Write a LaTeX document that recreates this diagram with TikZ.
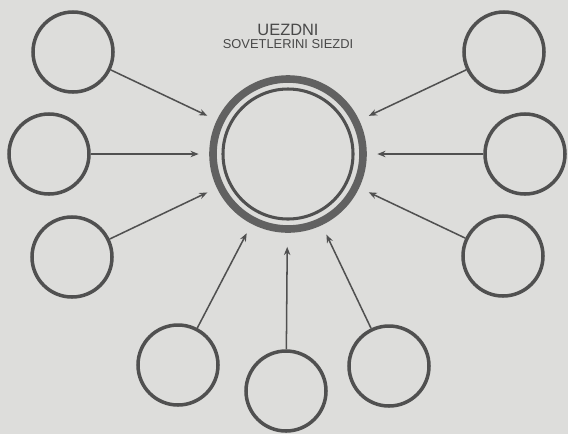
\documentclass[tikz,border=0pt]{standalone}
\usepackage{fontspec}
\setmainfont{Liberation Sans}
\usetikzlibrary{positioning,arrows.meta}
\definecolor{paper}{RGB}{221,221,219}
\definecolor{ink}{RGB}{80,80,80}

\begin{document}
\begin{tikzpicture}[
    x=0.03cm, y=-0.03cm,
    member/.style={circle,draw=ink,line width=3pt,inner sep=0pt,minimum size=2.4cm},
    hubouter/.style={circle,draw=ink!90,line width=6.5pt,inner sep=0pt,minimum size=4.5cm},
    hubinner/.style={circle,draw=ink,line width=2.6pt,inner sep=0pt,minimum size=3.9cm},
    label/.style={text=ink!90!black,inner sep=0pt},
    >={Stealth[length=7pt,width=5.5pt]}
]

\fill[paper] (0,0) rectangle (568,434);
\useasboundingbox (0,0) rectangle (568,434);

\node (title) [label,font=\fontsize{14}{16}\selectfont] at (288,30) {UEZDNI};
\node (sub) [label,font=\fontsize{11}{13}\selectfont,below=3pt of title] {SOVETLERINI SIEZDI};

\node (hub) [hubouter] at (288,154) {};
\node (core) [hubinner] at (288,154) {};

\node (c1) [member] at (73,52) {};
\node (c2) [member] at (49,154) {};
\node (c3) [member] at (72,257) {};
\node (c4) [member] at (178,365) {};
\node (c5) [member] at (286,391) {};
\node (c6) [member] at (389,366) {};
\node (c7) [member] at (503,256) {};
\node (c8) [member] at (525,154) {};
\node (c9) [member] at (504,52) {};

\draw[->,draw=ink,line width=1.3pt,shorten >=9pt] (c1) -- (hub);
\draw[->,draw=ink,line width=1.3pt,shorten >=9pt] (c2) -- (hub);
\draw[->,draw=ink,line width=1.3pt,shorten >=9pt] (c3) -- (hub);
\draw[->,draw=ink,line width=1.3pt,shorten >=9pt] (c4) -- (hub);
\draw[->,draw=ink,line width=1.3pt,shorten >=12pt] (c5) -- (hub);
\draw[->,draw=ink,line width=1.3pt,shorten >=9pt] (c6) -- (hub);
\draw[->,draw=ink,line width=1.3pt,shorten >=9pt] (c7) -- (hub);
\draw[->,draw=ink,line width=1.3pt,shorten >=9pt] (c8) -- (hub);
\draw[->,draw=ink,line width=1.3pt,shorten >=9pt] (c9) -- (hub);

\end{tikzpicture}
\end{document}
